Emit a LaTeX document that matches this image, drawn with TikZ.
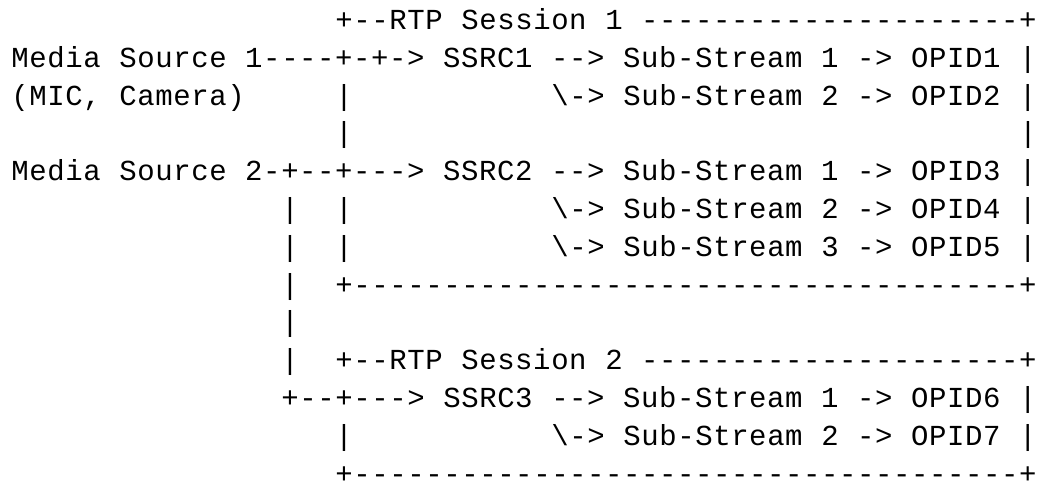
\documentclass[tikz,border=0pt]{standalone}
\usepackage{fontspec}
\newfontfamily\asciifont{Liberation Mono}
\newlength\cellw
\setlength\cellw{18pt}
\ExplSyntaxOn
\NewDocumentCommand\asciiline{m}
  {
    \str_map_inline:nn {#1}
      {
        \str_if_eq:nnTF {##1} {.}
          { \hspace*{\cellw} }
          { \makebox[\cellw][c]{##1} }
      }
  }
\ExplSyntaxOff
\tikzset{
  textline/.style={anchor=base west, inner sep=0pt, outer sep=0pt,
    font=\asciifont\fontsize{29}{29}\selectfont, text=black}
}
\begin{document}
\begin{tikzpicture}[x=1pt,y=-1pt]
\useasboundingbox[fill=white] (0,0) rectangle (1037,483);
\node[textline] (l0)  at (11, 29.4) {\asciiline{..................+--RTP.Session.1.---------------------+}};
\node[textline] (l1)  at (11, 67.2) {\asciiline{Media.Source.1----+-+->.SSRC1.-->.Sub-Stream.1.->.OPID1.|}};
\node[textline] (l2)  at (11,105.0) {\asciiline{(MIC,.Camera).....|...........\->.Sub-Stream.2.->.OPID2.|}};
\node[textline] (l3)  at (11,142.8) {\asciiline{..................|.....................................|}};
\node[textline] (l4)  at (11,180.6) {\asciiline{Media.Source.2-+--+--->.SSRC2.-->.Sub-Stream.1.->.OPID3.|}};
\node[textline] (l5)  at (11,218.4) {\asciiline{...............|..|...........\->.Sub-Stream.2.->.OPID4.|}};
\node[textline] (l6)  at (11,256.2) {\asciiline{...............|..|...........\->.Sub-Stream.3.->.OPID5.|}};
\node[textline] (l7)  at (11,294.0) {\asciiline{...............|..+-------------------------------------+}};
\node[textline] (l8)  at (11,331.8) {\asciiline{...............|}};
\node[textline] (l9)  at (11,369.6) {\asciiline{...............|..+--RTP.Session.2.---------------------+}};
\node[textline] (l10) at (11,407.4) {\asciiline{...............+--+--->.SSRC3.-->.Sub-Stream.1.->.OPID6.|}};
\node[textline] (l11) at (11,445.2) {\asciiline{..................|...........\->.Sub-Stream.2.->.OPID7.|}};
\node[textline] (l12) at (11,483.0) {\asciiline{..................+-------------------------------------+}};
\end{tikzpicture}
\end{document}
